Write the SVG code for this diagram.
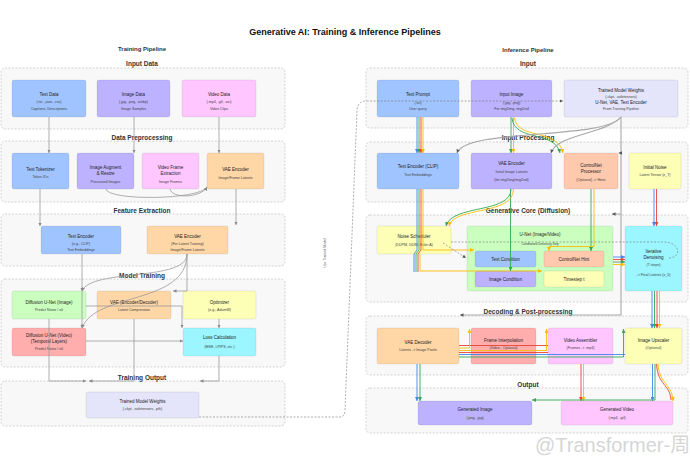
<svg xmlns="http://www.w3.org/2000/svg" width="690" height="460" viewBox="0 0 690 460">
<style>
text{font-family:"Liberation Sans",Arial,sans-serif;text-anchor:middle}
.ttl{font-size:9px;font-weight:bold;fill:#111}
.hd{font-size:6px;font-weight:bold;fill:#333}
.lb{font-size:6.5px;font-weight:bold;fill:#333}
.cl{fill:#f8f8f8;stroke:#b8b8b8;stroke-width:0.6;stroke-dasharray:2 1.5}
.n{stroke:rgba(0,0,0,0.14);stroke-width:0.5}
.t{font-size:4.5px;fill:#222}
.s{font-size:3.6px;fill:#444}
.xs{font-size:3px;fill:#444}
.blue{fill:#a0c4ff}.purple{fill:#bdb2ff}.pink{fill:#ffc6ff}.orange{fill:#ffd6a5}
.green{fill:#caffbf}.yellow{fill:#fdffb6}.red{fill:#ffadad}.cyan{fill:#9bf6ff}
.lav{fill:#e4e4fa}.salmon{fill:#ffc9ae}
.e{fill:none;stroke:#9a9a9a;stroke-width:0.8}
.ea{fill:none;stroke:#9a9a9a;stroke-width:0.8;marker-end:url(#ag)}
.gr{fill:none;stroke:#a8a8a8;stroke-width:1.1}
.dsh{fill:none;stroke:#777;stroke-width:0.6;stroke-dasharray:2 1.5}
.cb{fill:none;stroke:#4285f4;stroke-width:0.9}
.cg{fill:none;stroke:#34a853;stroke-width:0.9}
.cr{fill:none;stroke:#ea4335;stroke-width:0.9}
.cy{fill:none;stroke:#fbbc05;stroke-width:0.9}
.mb{marker-end:url(#ab)}.mg{marker-end:url(#agr)}.mr{marker-end:url(#ar)}.my{marker-end:url(#ay)}.mk{marker-end:url(#ak)}
</style>
<defs>
<marker id="ag" viewBox="0 0 4 4" refX="4" refY="2" markerWidth="3.5" markerHeight="3.5" markerUnits="userSpaceOnUse" orient="auto"><path d="M0,0L4,2L0,4z" fill="#888"/></marker>
<marker id="ak" viewBox="0 0 4 4" refX="4" refY="2" markerWidth="3.5" markerHeight="3.5" markerUnits="userSpaceOnUse" orient="auto"><path d="M0,0L4,2L0,4z" fill="#555"/></marker>
<marker id="ab" viewBox="0 0 4 4" refX="4" refY="2" markerWidth="4" markerHeight="4" markerUnits="userSpaceOnUse" orient="auto"><path d="M0,0L4,2L0,4z" fill="#4285f4"/></marker>
<marker id="agr" viewBox="0 0 4 4" refX="4" refY="2" markerWidth="4" markerHeight="4" markerUnits="userSpaceOnUse" orient="auto"><path d="M0,0L4,2L0,4z" fill="#34a853"/></marker>
<marker id="ar" viewBox="0 0 4 4" refX="4" refY="2" markerWidth="4" markerHeight="4" markerUnits="userSpaceOnUse" orient="auto"><path d="M0,0L4,2L0,4z" fill="#ea4335"/></marker>
<marker id="ay" viewBox="0 0 4 4" refX="4" refY="2" markerWidth="4" markerHeight="4" markerUnits="userSpaceOnUse" orient="auto"><path d="M0,0L4,2L0,4z" fill="#fbbc05"/></marker>
</defs>
<rect width="690" height="460" fill="#ffffff"/>
<text class="ttl" x="345" y="35">Generative AI: Training &amp; Inference Pipelines</text>

<g id="clusters">
<text class="hd" x="142" y="51">Training Pipeline</text>
<rect class="cl" x="1" y="68" width="284" height="61" rx="4"/>
<text class="lb" x="142" y="65.5">Input Data</text>
<rect class="cl" x="1" y="141" width="284" height="61" rx="4"/>
<text class="lb" x="142" y="139.5">Data Preprocessing</text>
<rect class="cl" x="1" y="214" width="284" height="52" rx="4"/>
<text class="lb" x="142" y="212.5">Feature Extraction</text>
<rect class="cl" x="1" y="279" width="284" height="88" rx="4"/>
<text class="lb" x="142" y="277.5">Model Training</text>
<rect class="cl" x="1" y="381" width="284" height="45" rx="4"/>
<text class="lb" x="142" y="379.5">Training Output</text>

<text class="hd" x="528" y="52">Inference Pipeline</text>
<rect class="cl" x="366" y="68" width="322" height="60" rx="4"/>
<text class="lb" x="528" y="66">Input</text>
<rect class="cl" x="366" y="142" width="322" height="60" rx="4"/>
<text class="lb" x="528" y="139.5">Input Processing</text>
<rect class="cl" x="366" y="215" width="322" height="87" rx="4"/>
<text class="lb" x="528" y="212.5">Generative Core (Diffusion)</text>
<rect class="cl" x="366" y="316" width="322" height="59" rx="4"/>
<text class="lb" x="528" y="314">Decoding &amp; Post-processing</text>
<rect class="cl" x="366" y="388" width="322" height="45" rx="4"/>
<text class="lb" x="528" y="387">Output</text>
</g>

<g id="n-text-data"><rect class="n blue" x="12" y="80" width="74" height="37" rx="2"/><text class="t" x="49" y="95.5">Text Data</text><text class="s" x="49" y="103">(.txt, .json, .csv)</text><text class="s" x="49" y="109.5">Captions, Descriptions</text></g>
<g id="n-image-data"><rect class="n purple" x="97" y="80" width="73" height="37" rx="2"/><text class="t" x="133.5" y="95.5">Image Data</text><text class="s" x="133.5" y="103">(.jpg, .png, .webp)</text><text class="s" x="133.5" y="109.5">Image Samples</text></g>
<g id="n-video-data"><rect class="n pink" x="182" y="80" width="74" height="37" rx="2"/><text class="t" x="219" y="95.5">Video Data</text><text class="s" x="219" y="103">(.mp4, .gif, .avi)</text><text class="s" x="219" y="109.5">Video Clips</text></g>

<g id="n-text-tokenizer"><rect class="n blue" x="12" y="153" width="57" height="36" rx="2"/><text class="t" x="40.5" y="170.5">Text Tokenizer</text><text class="s" x="40.5" y="178.3">Token IDs</text></g>
<g id="n-image-augment"><rect class="n purple" x="77" y="153" width="57" height="36" rx="2"/><text class="t" x="105.5" y="168.8">Image Augment</text><text class="t" x="105.5" y="174.5">&amp; Resize</text><text class="s" x="105.5" y="183">Processed Images</text></g>
<g id="n-video-frame"><rect class="n pink" x="142" y="153" width="57" height="36" rx="2"/><text class="t" x="170.5" y="168.8">Video Frame</text><text class="t" x="170.5" y="174.5">Extraction</text><text class="s" x="170.5" y="183">Image Frames</text></g>
<g id="n-vae-encoder-prep"><rect class="n orange" x="207" y="153" width="57" height="36" rx="2"/><text class="t" x="235.5" y="170.5">VAE Encoder</text><text class="s" x="235.5" y="178.5">Image/Frame Latents</text></g>

<g id="n-text-encoder-feat"><rect class="n blue" x="41" y="226" width="80" height="28" rx="2"/><text class="t" x="81" y="237.5">Text Encoder</text><text class="s" x="81" y="245.3">(e.g., CLIP)</text><text class="s" x="81" y="251.3">Text Embeddings</text></g>
<g id="n-vae-encoder-feat"><rect class="n orange" x="147" y="226" width="81" height="28" rx="2"/><text class="t" x="187.5" y="237.5">VAE Encoder</text><text class="s" x="187.5" y="245.3">(For Latent Training)</text><text class="s" x="187.5" y="251.3">Image/Frame Latents</text></g>

<g id="n-unet-image"><rect class="n green" x="12" y="291" width="74" height="28" rx="2"/><text class="t" x="49" y="303.5">Diffusion U-Net (Image)</text><text class="s" x="49" y="310.8">Predict Noise / x0</text></g>
<g id="n-vae-ed"><rect class="n orange" x="97" y="291" width="74" height="28" rx="2"/><text class="t" x="134" y="303.5">VAE (Encoder/Decoder)</text><text class="s" x="134" y="310.8">Latent Compression</text></g>
<g id="n-optimizer"><rect class="n yellow" x="183" y="291" width="73" height="28" rx="2"/><text class="t" x="219.5" y="303.5">Optimizer</text><text class="s" x="219.5" y="310.8">(e.g., AdamW)</text></g>
<g id="n-unet-video"><rect class="n red" x="12" y="328" width="74" height="28" rx="2"/><text class="t" x="49" y="337.2">Diffusion U-Net (Video)</text><text class="t" x="49" y="343.2">(Temporal Layers)</text><text class="s" x="49" y="349.5">Predict Noise / x0</text></g>
<g id="n-loss"><rect class="n cyan" x="183" y="328" width="73" height="28" rx="2"/><text class="t" x="219.5" y="339.2">Loss Calculation</text><text class="s" x="219.5" y="347.5">(MSE, LPIPS, etc.)</text></g>

<g id="n-trained-weights"><rect class="n lav" x="86" y="392" width="113" height="26" rx="2"/><text class="t" x="142.5" y="402.5">Trained Model Weights</text><text class="s" x="142.5" y="410.3">(.ckpt, .safetensors, .pth)</text></g>

<g id="n-text-prompt"><rect class="n blue" x="377" y="80" width="82" height="37" rx="2"/><text class="t" x="418" y="95.5">Text Prompt</text><text class="s" x="418" y="103.5">(.txt)</text><text class="s" x="418" y="109.5">User query</text></g>
<g id="n-input-image"><rect class="n purple" x="471" y="80" width="81" height="37" rx="2"/><text class="t" x="511.5" y="95.5">Input Image</text><text class="s" x="511.5" y="103.5">(.jpg, .png)</text><text class="s" x="511.5" y="109.5">For img2img, img2vid</text></g>
<g id="n-trained-weights-in"><rect class="n lav" x="564" y="80" width="114" height="37" rx="2"/><text class="t" x="621" y="91.5">Trained Model Weights</text><text class="s" x="621" y="97.5">(.ckpt, .safetensors)</text><text class="t" x="621" y="103.7">U-Net, VAE, Text Encoder</text><text class="s" x="621" y="109.7">From Training Pipeline</text></g>

<g id="n-text-encoder-clip"><rect class="n blue" x="377" y="153" width="82" height="36" rx="2"/><text class="t" x="418" y="168">Text Encoder (CLIP)</text><text class="s" x="418" y="176">Text Embeddings</text></g>
<g id="n-vae-encoder-in"><rect class="n purple" x="471" y="153" width="81" height="36" rx="2"/><text class="t" x="511.5" y="164.8">VAE Encoder</text><text class="s" x="511.5" y="172.5">Initial Image Latents</text><text class="s" x="511.5" y="180.5">(for img2img/img2vid)</text></g>
<g id="n-controlnet-proc"><rect class="n salmon" x="564" y="153" width="54" height="36" rx="2"/><text class="t" x="591" y="166.5">ControlNet</text><text class="t" x="591" y="172.5">Processor</text><text class="s" x="591" y="180.5">(Optional) -&gt; Hints</text></g>
<g id="n-initial-noise"><rect class="n yellow" x="629" y="153" width="52" height="36" rx="2"/><text class="t" x="655" y="168.5">Initial Noise</text><text class="s" x="655" y="176">Latent Tensor (z_T)</text></g>

<g id="n-noise-scheduler"><rect class="n yellow" x="377" y="226" width="74" height="28" rx="2"/><text class="t" x="414" y="237.5">Noise Scheduler</text><text class="s" x="414" y="245.5">(DDPM, DDIM, Euler A)</text></g>
<g id="n-unet"><rect class="n green" x="467" y="226" width="146" height="65" rx="2"/><text class="t" x="540" y="235.5">U-Net (Image/Video)</text><text class="xs" x="540" y="244.5">Conditioned Denoising Step</text></g>
<g id="n-text-cond"><rect class="n blue" x="475" y="251" width="61" height="16" rx="2"/><text class="t" x="505.5" y="260.5">Text Condition</text></g>
<g id="n-cn-hint"><rect class="n salmon" x="544" y="251" width="60" height="16" rx="2"/><text class="t" x="574" y="260.5">ControlNet Hint</text></g>
<g id="n-image-cond"><rect class="n purple" x="475" y="271" width="61" height="16" rx="2"/><text class="t" x="505.5" y="280.5">Image Condition</text></g>
<g id="n-timestep"><rect class="n yellow" x="544" y="271" width="60" height="16" rx="2"/><text class="t" x="574" y="280.5">Timestep t</text></g>
<g id="n-iter-denoise"><rect class="n cyan" x="625" y="226" width="57" height="65" rx="2"/><text class="t" x="653.5" y="252.5">Iterative</text><text class="t" x="653.5" y="258.5">Denoising</text><text class="s" x="653.5" y="265.8">(T steps)</text><text class="s" x="653.5" y="275.5">-&gt; Final Latents (z_0)</text></g>

<g id="n-vae-decoder"><rect class="n orange" x="377" y="328" width="82" height="36" rx="2"/><text class="t" x="418" y="343.5">VAE Decoder</text><text class="s" x="418" y="351.3">Latents -&gt; Image Pixels</text></g>
<g id="n-frame-interp"><rect class="n red" x="471" y="328" width="65" height="36" rx="2"/><text class="t" x="503.5" y="341.5">Frame Interpolation</text><text class="s" x="503.5" y="349.3">(Video - Optional)</text></g>
<g id="n-video-assembler"><rect class="n pink" x="548" y="328" width="65" height="36" rx="2"/><text class="t" x="580.5" y="341.5">Video Assembler</text><text class="s" x="580.5" y="349.3">(Frames -&gt; .mp4)</text></g>
<g id="n-image-upscaler"><rect class="n yellow" x="625" y="328" width="57" height="36" rx="2"/><text class="t" x="653.5" y="341.5">Image Upscaler</text><text class="s" x="653.5" y="349.3">(Optional)</text></g>

<g id="n-generated-image"><rect class="n purple" x="418" y="401" width="114" height="24" rx="2"/><text class="t" x="475" y="410.5">Generated Image</text><text class="s" x="475" y="418.5">(.png, .jpg)</text></g>
<g id="n-generated-video"><rect class="n pink" x="561" y="401" width="112" height="24" rx="2"/><text class="t" x="617" y="410.5">Generated Video</text><text class="s" x="617" y="418.5">(.mp4, .gif)</text></g>

<g id="connectors">
<path class="ea" d="M49,117V153"/>
<path class="ea" d="M134,117V153"/>
<path class="ea" d="M219,117V153"/>
<path class="ea" d="M106,189C108,201 200,200 207,187"/>
<path class="ea" d="M170,189C172,199 201,198 207,187"/>
<path class="ea" d="M40,189V226"/>
<path class="ea" d="M236,189V225"/>
<path class="ea" d="M82,254V291"/>
<path class="ea" d="M82,291V328"/>
<path class="ea" d="M187,254C187,282 92,268 82,291"/>
<path class="ea" d="M187,254C187,305 95,292 82,328"/>
<path class="ea" d="M187,254V291H173"/>
<path class="ea" d="M86,306H182V328"/>
<path class="ea" d="M86,341H183"/>
<path class="ea" d="M219,319V328"/>
<path class="ea" d="M49,319V381H86"/>
<path class="ea" d="M134,319V381H89"/>
<path class="ea" d="M219,356V381H200"/>
<path class="dsh mk" d="M199,417H340Q345,417 345,410L357,110Q358,101 366,101H563"/>
<text class="xs" x="0" y="0" transform="translate(325.5,253) rotate(-90)" style="font-size:3.5px;fill:#555">Use Trained Model</text>

<path class="cb mb" d="M417,117V153"/>
<path class="cg mg" d="M419,117V153"/>
<path class="cr mr" d="M421,117V153"/>
<path class="cy my" d="M423,117V153"/>
<path class="cb" d="M417,189V250L414,254V272"/>
<path class="cg" d="M419,189V250L416,254V272"/>
<path class="cr" d="M421,189V250L418,254V272"/>
<path class="cy my" d="M423,189V250H474"/>
<path class="cy my" d="M420,254V271H542"/>

<path class="cg mg" d="M511,117V153"/>
<path class="cy my" d="M513.5,117V153"/>
<path class="cg mg" d="M512,118C514,142 555,130 560,153"/>
<path class="cy my" d="M514.5,118C517,140 558,128 563,153"/>
<path class="gr mk" d="M621,117C604,140 466,128 457,153"/>
<path class="gr mk" d="M621,117C606,134 557,134 551,153"/>
<path class="gr mk" d="M621,117V315H460"/>
<path class="gr mk" d="M621,153H618.5"/>
<path class="gr mk" d="M621,214H612"/>

<path class="cb mb" d="M654,189V226"/>
<path class="cr mr" d="M656.5,189V226"/>

<path class="cg mg" d="M510.5,189V271"/>
<path class="cg mg" d="M511,189C511,214 452,204 446,226"/>
<path class="cy my" d="M513.5,189C513.5,216 454,206 449,226"/>
<path class="cg mg" d="M591,189V251"/>
<path class="cy my" d="M594,189V246.5H549V251"/>

<path class="dsh" d="M451,242H664C680,242 683,258 668,258"/>
<path class="dsh mk" d="M443,243L466,258"/>

<path class="cb mb" d="M613,257H625"/>
<path class="cr mr" d="M613,259.5H625"/>
<path class="cg mg" d="M613,262H625"/>
<path class="cy my" d="M613,264.5H625"/>

<path class="cb mb" d="M652,291V328"/>
<path class="cg mg" d="M654.5,291V328"/>
<path class="cr mr" d="M657,291V328"/>
<path class="cy my" d="M659.5,291V328"/>

<path class="cr" d="M459,345.5H548"/>
<path class="cy my" d="M459,348H469.5V329"/>
<path class="cy my" d="M459,350.5H546.5V329"/>
<path class="cr" d="M459,352.5H548"/>
<path class="cb" d="M459,354.5H625"/>
<path class="cg mg" d="M459,357H623.5V329"/>

<path class="cb mb" d="M417,364V401"/>
<path class="cg mg" d="M420,364V401"/>
<path class="cr mr" d="M581,364V401"/>
<path class="cy my" d="M583.5,364V401"/>
<path class="cb mb" d="M652.5,364V401"/>
<path class="cg mg" d="M655,364V400H532"/>
<path class="cr" d="M656.5,364C658,386 670,384 671,400"/>
<path class="cy my" d="M658,364C660,386 672,383 673,401"/>
</g>

<text x="535" y="451.5" style="text-anchor:start;font-family:'Liberation Sans','Noto Sans CJK SC',sans-serif;font-size:20px;fill:#d6d6d6">@Transformer-周</text>
</svg>
